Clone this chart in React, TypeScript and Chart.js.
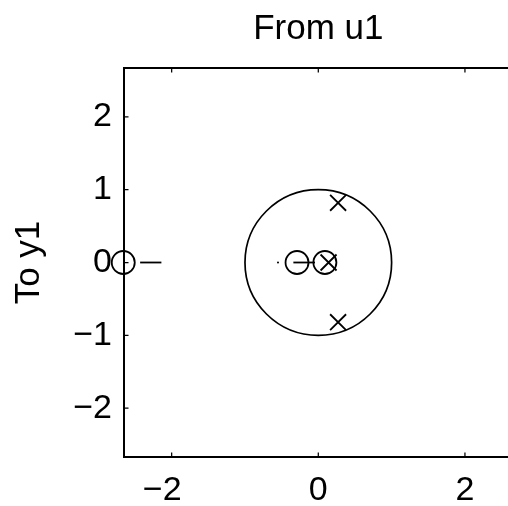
import { useEffect, useRef } from 'react';
import { Chart, registerables } from 'chart.js';

Chart.register(...registerables);

// Pole-zero data (real / imaginary parts)
const ZERO_RE = [-2.66, -0.29, 0.09];
const ZERO_IM = [0, 0, 0];
const POLE_RE = [0.14, 0.27, 0.27];
const POLE_IM = [0, 0.82, -0.82];
const DOT_RE = [-0.55];
const DOT_IM = [0];
const SEG_A_RE = [-2.43, -2.14];
const SEG_A_IM = [0, 0];
const SEG_B_RE = [-0.34, -0.045];
const SEG_B_IM = [0, 0];
const UNIT_RADIUS = 1;

const X_TICKS = [-2, 0, 2];
const Y_TICKS = [-2, -1, 0, 1, 2];
const X_RANGE = [-2.65, 2.65];
const Y_RANGE = [-2.67, 2.67];

const TITLE = 'From u1';
const Y_LABEL = 'To y1';

const FONT = "'Liberation Sans', Arial, Helvetica, sans-serif";

const pts = (xs: number[], ys: number[]) => xs.map((x, i) => ({ x, y: ys[i] }));
const minus = (v: number) => (v < 0 ? '\u2212' + Math.abs(v) : String(v));

const framePlugin = {
  id: 'frame',
  beforeDatasetsDraw(chart: any) {
    const { ctx, chartArea: a, scales } = chart;
    const x = scales.x;
    const y = scales.y;
    ctx.save();
    ctx.strokeStyle = '#000';
    // unit circle
    const cx = x.getPixelForValue(0);
    const cy = y.getPixelForValue(0);
    const rx = x.getPixelForValue(UNIT_RADIUS) - cx;
    const ry = cy - y.getPixelForValue(UNIT_RADIUS);
    ctx.lineWidth = 1.7;
    ctx.beginPath();
    ctx.ellipse(cx, cy, rx, ry, 0, 0, Math.PI * 2);
    ctx.stroke();
    // frame
    ctx.lineWidth = 2;
    ctx.strokeRect(a.left, a.top, a.width, a.height);
    // inward ticks
    const TL = 4.5;
    ctx.lineWidth = 1.25;
    ctx.beginPath();
    X_TICKS.forEach((v) => {
      const px = x.getPixelForValue(v);
      ctx.moveTo(px, a.top);
      ctx.lineTo(px, a.top + TL);
      ctx.moveTo(px, a.bottom);
      ctx.lineTo(px, a.bottom - TL);
    });
    Y_TICKS.forEach((v) => {
      const py = y.getPixelForValue(v);
      ctx.moveTo(a.left, py);
      ctx.lineTo(a.left + TL, py);
      ctx.moveTo(a.right, py);
      ctx.lineTo(a.right - TL, py);
    });
    ctx.stroke();
    ctx.restore();
  },
};

export default function App() {
  const ref = useRef<HTMLCanvasElement | null>(null);

  useEffect(() => {
    if (!ref.current) return;
    const marker = {
      pointBorderColor: '#000',
      pointBackgroundColor: 'rgba(0,0,0,0)',
      pointBorderWidth: 1.8,
      showLine: false,
      clip: false as any,
    };
    const seg = {
      showLine: true,
      borderColor: '#000',
      borderWidth: 1.8,
      pointRadius: 0,
      clip: false as any,
    };
    const chart = new Chart(ref.current, {
      type: 'scatter',
      data: {
        datasets: [
          { label: 'segA', data: pts(SEG_A_RE, SEG_A_IM), ...seg },
          { label: 'segB', data: pts(SEG_B_RE, SEG_B_IM), ...seg },
          {
            label: 'dot',
            data: pts(DOT_RE, DOT_IM),
            pointStyle: 'circle',
            pointRadius: 1,
            pointBackgroundColor: '#000',
            pointBorderColor: '#000',
            pointBorderWidth: 0,
            showLine: false,
          },
          {
            label: 'zeros',
            data: pts(ZERO_RE, ZERO_IM),
            pointStyle: 'circle',
            pointRadius: 11.5,
            ...marker,
          },
          {
            label: 'poles',
            data: pts(POLE_RE, POLE_IM),
            pointStyle: 'crossRot',
            pointRadius: 11.3,
            ...marker,
          },
        ],
      },
      options: {
        animation: false,
        responsive: false,
        events: [],
        color: '#000',
        layout: { padding: { left: 0, right: 17.4, top: 0, bottom: 0 } },
        plugins: {
          legend: { display: false },
          tooltip: { enabled: false },
          title: {
            display: true,
            text: TITLE,
            fullSize: false,
            color: '#000',
            font: { family: FONT, size: 35, weight: 'normal' },
            padding: { top: 8, bottom: 18 },
          },
        },
        scales: {
          x: {
            type: 'linear',
            min: X_RANGE[0],
            max: X_RANGE[1],
            afterBuildTicks: (s: any) => {
              s.ticks = X_TICKS.map((value) => ({ value }));
            },
            afterFit: (s: any) => {
              s.height = 49;
            },
            grid: { display: false, drawTicks: false },
            border: { display: false },
            ticks: {
              color: '#000',
              font: { family: FONT, size: 34 },
              padding: 13,
              maxRotation: 0,
              autoSkip: false,
              callback: (v: any) => (v < 0 ? minus(v) + '\u2007' : minus(v)),
            },
          },
          y: {
            type: 'linear',
            min: Y_RANGE[0],
            max: Y_RANGE[1],
            afterBuildTicks: (s: any) => {
              s.ticks = Y_TICKS.map((value) => ({ value }));
            },
            afterFit: (s: any) => {
              s.width = 124;
            },
            grid: { display: false, drawTicks: false },
            border: { display: false },
            title: {
              display: true,
              text: Y_LABEL,
              color: '#000',
              font: { family: FONT, size: 35 },
              padding: { top: 8.5, bottom: 0 },
            },
            ticks: {
              color: '#000',
              font: { family: FONT, size: 34 },
              padding: 12,
              autoSkip: false,
              callback: (v: any) => minus(v),
            },
          },
        },
      },
      plugins: [framePlugin],
    });
    return () => chart.destroy();
  }, []);

  return (
    <div
      style={{
        position: 'fixed',
        left: 0,
        top: 0,
        width: 508,
        height: 506,
        overflow: 'hidden',
        background: '#fff',
      }}
    >
      <canvas
        ref={ref}
        width={530}
        height={506}
        style={{ display: 'block', width: 530, height: 506 }}
      />
    </div>
  );
}
